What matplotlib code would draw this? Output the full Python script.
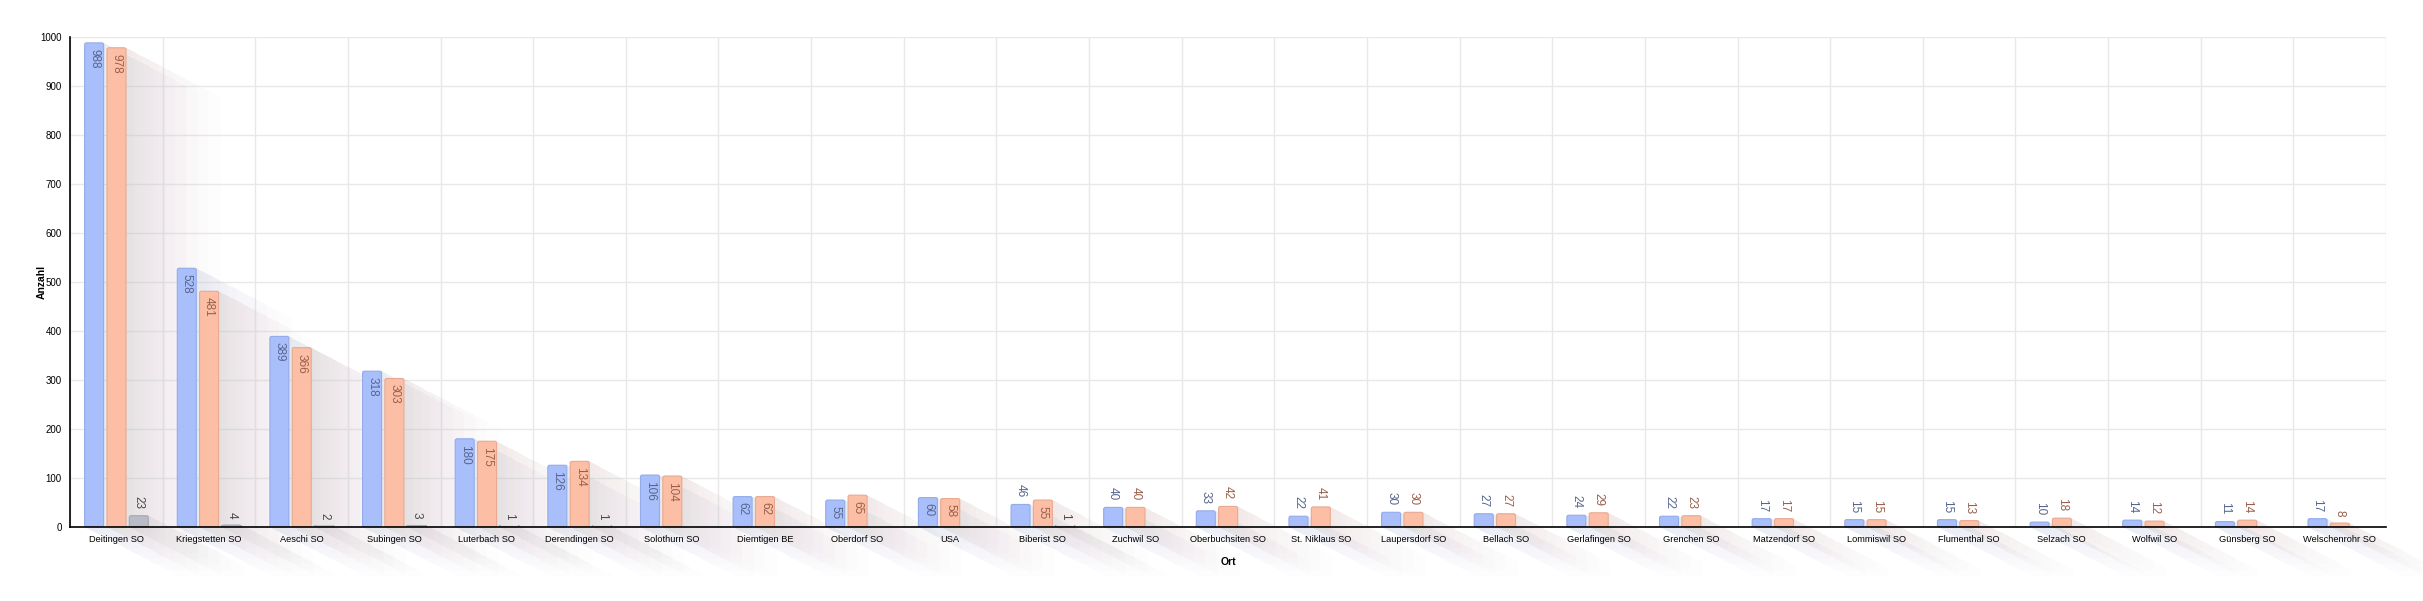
import matplotlib
matplotlib.use("Agg")
import matplotlib.pyplot as plt
from matplotlib.patches import Polygon, FancyBboxPatch
import numpy as np

plt.rcParams['font.family'] = ['Liberation Sans', 'DejaVu Sans']

categories = ["Deitingen SO", "Kriegstetten SO", "Aeschi SO", "Subingen SO", "Luterbach SO",
              "Derendingen SO", "Solothurn SO", "Diemtigen BE", "Oberdorf SO", "USA",
              "Biberist SO", "Zuchwil SO", "Oberbuchsiten SO", "St. Niklaus SO", "Laupersdorf SO",
              "Bellach SO", "Gerlafingen SO", "Grenchen SO", "Matzendorf SO", "Lommiswil SO",
              "Flumenthal SO", "Selzach SO", "Wolfwil SO", "Günsberg SO", "Welschenrohr SO"]
series_blue = [988, 528, 389, 318, 180, 126, 106, 62, 55, 60, 46, 40, 33, 22, 30, 27, 24, 22,
               17, 15, 15, 10, 14, 11, 17]
series_orange = [978, 481, 366, 303, 175, 134, 104, 62, 65, 58, 55, 40, 42, 41, 30, 27, 29, 23,
                 17, 15, 13, 18, 12, 14, 8]
series_gray = [23, 4, 2, 3, 1, 1, None, None, None, None, 1, None, None, None, None, None, None,
               None, None, None, None, None, None, None, None]
y_ticks = [0, 100, 200, 300, 400, 500, 600, 700, 800, 900, 1000]

W, H = 2423, 601
fig = plt.figure(figsize=(W / 100, H / 100), dpi=100)
ax = fig.add_axes([70 / W, 1 - 527 / H, (2386 - 70) / W, (527 - 37) / H])

n = len(categories)

bw = 0.205
gap = 0.036
offsets = [0.158, 0.158 + bw + gap, 0.158 + 2 * (bw + gap)]
fills = ['#a9bffb', '#fcbfa6', '#b9bcc7']
edges = ['#94abe8', '#e8a990', '#a5a8b3']
txtc = ['#56658c', '#985f4c', '#4a4a4a']
shades = ['#6c7290', '#7d6a66', '#707070']

for v in y_ticks:
    ax.axhline(v, color='#e8e8e8', lw=1, zorder=0)
for i in range(n + 1):
    ax.axvline(i, color='#e8e8e8', lw=1, zorder=0)

px_x = (2386 - 70) / n
px_y = (527 - 37) / 1000.0
slope_px = 0.52
Dpx = 95.0
K = 12
a_step = 0.008

all_series = [series_blue, series_orange, series_gray]
for si, ser in enumerate(all_series):
    for i, v in enumerate(ser):
        if v is None:
            continue
        x0 = i + offsets[si]
        x1 = x0 + bw
        top = v
        for k in range(1, K + 1):
            t = Dpx * (k / K) ** 1.6
            dx = t / px_x
            dy = t * slope_px / px_y
            poly = [(x0, top), (x1, top), (x1 + dx, top - dy), (x1 + dx, -dy),
                    (x0 + dx, -dy), (x0, 0)]
            ax.add_patch(Polygon(poly, closed=True, facecolor=shades[si], alpha=a_step,
                                 edgecolor='none', zorder=1, clip_on=False))
        bar = FancyBboxPatch((x0, 0), bw, v,
                             boxstyle='round,pad=0,rounding_size=0.02',
                             mutation_aspect=px_x / px_y,
                             facecolor=fills[si], edgecolor=edges[si], lw=0.8, zorder=3)
        ax.add_patch(bar)
        xc = x0 + bw / 2
        if v >= 50:
            ax.text(xc, v - 12, str(v), rotation=-90, ha='center', va='top',
                    fontsize=8.5, color=txtc[si], zorder=5)
        else:
            ax.text(xc, v + 14, str(v), rotation=-90, ha='center', va='bottom',
                    fontsize=8.5, color=txtc[si], zorder=5)

ax.set_xlim(0, n)
ax.set_ylim(0, 1000)
ax.set_xticks(np.arange(n) + 0.5)
ax.set_xticklabels(categories, fontsize=6.7)
ax.set_yticks(y_ticks)
ax.set_yticklabels([str(t) for t in y_ticks], fontsize=7)
ax.tick_params(length=0, pad=6)
ax.tick_params(axis='y', pad=6)

for s in ['top', 'right']:
    ax.spines[s].set_visible(False)
for s in ['left', 'bottom']:
    ax.spines[s].set_color('#000000')
    ax.spines[s].set_linewidth(1.2)
    ax.spines[s].set_zorder(6)

ax.set_xlabel('Ort', fontsize=7.5, fontweight='bold')
ax.set_ylabel('Anzahl', fontsize=7.5, fontweight='bold')
ax.xaxis.set_label_coords(0.5, -35 / 490, transform=ax.transAxes)
ax.yaxis.set_label_coords(-28 / 2316, 0.5, transform=ax.transAxes)
ax.xaxis.label.set_va('center')
ax.yaxis.label.set_va('center')

fig.savefig('out.png', dpi=100, facecolor='white')
